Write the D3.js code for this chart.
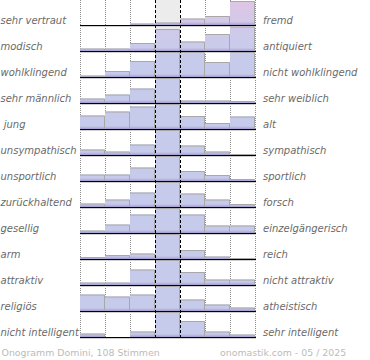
<!DOCTYPE html>
<html><head><meta charset="utf-8">
<script src="https://cdn.jsdelivr.net/npm/d3@7"></script>
<style>body{margin:0;background:#fff}svg{display:block}text{font-family:"DejaVu Sans",sans-serif}</style>
</head><body>
<script>
const leftLabels = ["sehr vertraut","modisch","wohlklingend","sehr männlich"," jung","unsympathisch","unsportlich","zurückhaltend","gesellig","arm","attraktiv","religiös","nicht intelligent"];
const rightLabels = ["fremd","antiquiert","nicht wohlklingend","sehr weiblich","alt","sympathisch","sportlich","forsch","einzelgängerisch","reich","nicht attraktiv","atheistisch","sehr intelligent"];
const steps = [1,2,3,4,5,6,7];
// share of votes per step (%), one array per row
const values = [
  [0,0,3,5,13,18,48],
  [5,5,16,44,19,34,49],
  [3,12,32,60,60,30,60],
  [9,17,29,60,5,5,4],
  [27,35,45,60,26,12,25],
  [11,7,21,60,19,7,2],
  [13,13,27,60,20,12,4],
  [7,15,29,60,27,15,6],
  [5,17,37,60,37,15,15],
  [4,8,11,60,18,5,2],
  [5,5,31,60,26,11,11],
  [33,29,33,60,23,13,7],
  [7,0,11,60,32,11,5]
];
const footerLeft = "Onogramm Domini, 108 Stimmen";
const footerRight = "onomastik.com - 05 / 2025";

const W = 370, H = 360;
const svg = d3.select("body").append("svg").attr("width", W).attr("height", H);
const x = d3.scaleBand().domain(steps).range([80, 255]).paddingInner(0).paddingOuter(0);
const row = d3.scaleLinear().domain([0, leftLabels.length - 1]).range([25, 337]);
const h = d3.scaleLinear().domain([0, 50]).range([0, 25]).clamp(true);

const defs = svg.append("defs");
const g1 = defs.append("linearGradient").attr("id","barfill").attr("gradientUnits","userSpaceOnUse")
  .attr("x1",0).attr("x2",0).attr("y1",0).attr("y2",60);
g1.append("stop").attr("offset",0).attr("stop-color","#dfc5e5");
g1.append("stop").attr("offset",0.55).attr("stop-color","#cecaea");
g1.append("stop").attr("offset",1).attr("stop-color","#c6cbeb");
const g2 = defs.append("linearGradient").attr("id","band").attr("x1",0).attr("x2",0).attr("y1",0).attr("y2",1);
g2.append("stop").attr("offset",0).attr("stop-color","#b7b4e0").attr("stop-opacity",0);
g2.append("stop").attr("offset",1).attr("stop-color","#9c92ca").attr("stop-opacity",0.9);

// center column background
svg.append("rect").attr("x", x(4)).attr("y", 0).attr("width", x.bandwidth()).attr("height", row(12)).attr("fill", "#ececec");

// dotted grid
const bounds = [80,105,130,205,230,255];
svg.append("g").selectAll("line").data(bounds).join("line")
  .attr("x1", d => d + 0.5).attr("x2", d => d + 0.5).attr("y1", 0).attr("y2", 339)
  .attr("stroke", "#8a8a8a").attr("stroke-dasharray", "1,1");

// bars
const rows = svg.append("g").selectAll("g").data(values).join("g");
rows.each(function(vals, i) {
  const base = row(i);
  const g = d3.select(this);
  const data = vals.map((v, j) => ({v, step: steps[j]})).filter(d => d.v > 0);
  g.selectAll("rect.bar").data(data).join("rect").attr("class","bar")
    .attr("x", d => x(d.step)).attr("y", d => base - h(d.v))
    .attr("width", x.bandwidth()).attr("height", d => h(d.v)).attr("fill", "url(#barfill)");
  g.selectAll("rect.band").data(data).join("rect").attr("class","band")
    .attr("x", d => x(d.step)).attr("y", d => base - Math.min(h(d.v), 3.5))
    .attr("width", x.bandwidth()).attr("height", d => Math.min(h(d.v), 3.5)).attr("fill", "url(#band)");
  g.selectAll("path.edge").data(data).join("path").attr("class","edge")
    .attr("d", d => {
      const x0 = x(d.step), x1 = x(d.step) + x.bandwidth() - 0.5, t = base - h(d.v) + 0.5;
      return `M${x0},${t}H${x1}V${base}`;
    })
    .attr("fill", "none").attr("stroke", "#a8a8a8").attr("stroke-width", 1);
  g.append("line").attr("x1", 80).attr("x2", 256).attr("y1", base + 1.5).attr("y2", base + 1.5)
    .attr("stroke", "#d0d0d0");
  g.append("line").attr("x1", 80).attr("x2", 256).attr("y1", base + 0.5).attr("y2", base + 0.5)
    .attr("stroke", "#000").attr("stroke-width", 1.2);
});

// dashed center lines
svg.append("g").selectAll("line").data([x(4), x(5)]).join("line")
  .attr("x1", d => d + 0.5).attr("x2", d => d + 0.5).attr("y1", 0).attr("y2", 339)
  .attr("stroke", "#000").attr("stroke-dasharray", "3,2");

// labels
svg.append("g").selectAll("text").data(leftLabels).join("text")
  .attr("x", 0.5).attr("y", (d, i) => row(i) - 1.5)
  .attr("font-size", 10).attr("font-style", "italic").attr("fill", "#6a6a6a")
  .style("white-space", "pre").text(d => d);
svg.append("g").selectAll("text").data(rightLabels).join("text")
  .attr("x", 263).attr("y", (d, i) => row(i) - 1.5)
  .attr("font-size", 10).attr("font-style", "italic").attr("fill", "#6a6a6a")
  .text(d => d);

svg.append("text").attr("x", 1.5).attr("y", 356).attr("font-size", 9.4).attr("fill", "#bbb").text(footerLeft);
svg.append("text").attr("x", 220).attr("y", 356).attr("font-size", 9.4).attr("fill", "#bbb").text(footerRight);
</script>
</body></html>
